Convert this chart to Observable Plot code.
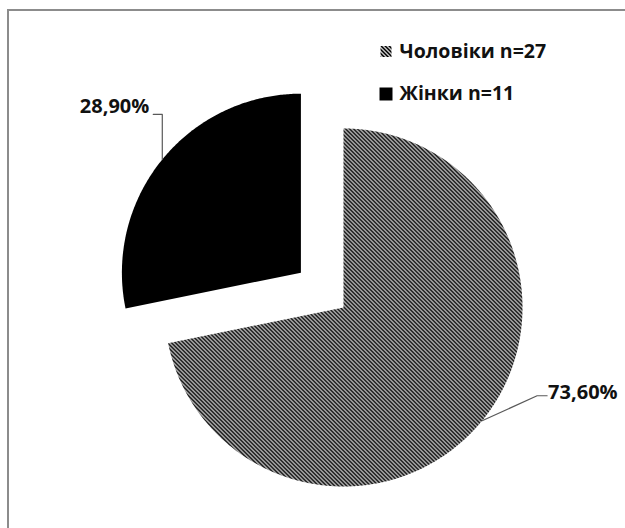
<!DOCTYPE html>
<html>
<head>
<meta charset="utf-8">
<script src="https://cdn.jsdelivr.net/npm/d3@7"></script>
<script src="https://cdn.jsdelivr.net/npm/@observablehq/plot@0.6"></script>
<style>
  html, body { margin: 0; padding: 0; background: #fff; overflow: hidden; }
  #wrap { position: relative; width: 625px; height: 528px; overflow: hidden; }
  #border { position: absolute; left: 7px; top: 9px; width: 700px; height: 600px;
            border-top: 2px solid #8c8c8c; border-left: 2px solid #8c8c8c; box-sizing: border-box; }
  #chart { position: absolute; left: 0; top: 0; }
</style>
</head>
<body>
<div id="wrap"><div id="border"></div><div id="chart"></div></div>
<script>
// ---- data ----
const categories = ["Чоловіки n=27", "Жінки n=11"];
const values = [73.6, 28.9];
const labels = ["73,60%", "28,90%"];

// ---- layout (pixels) ----
const W = 625, H = 528;
const R = 179;               // pie radius in px
const CX = 343, CY = 307;    // pie centre in px
const EXPLODE = [0, 55];     // explosion per slice in px
const FONT = "'Open Sans', sans-serif";

const data = categories.map((c, i) => ({category: c, value: values[i], label: labels[i], i}));
const arcs = d3.pie().sort(null).value(d => d.value)(data);

// polygons in unit coords (radius 1, y up)
const pts = [];
const leaders = [];
const labelPts = [];
arcs.forEach((a, k) => {
  const mid = (a.startAngle + a.endAngle) / 2;
  const e = EXPLODE[k] / R;
  const ox = e * Math.sin(mid), oy = e * Math.cos(mid);
  pts.push({k, x: ox, y: oy});
  const n = Math.ceil((a.endAngle - a.startAngle) / (Math.PI / 360));
  for (let j = 0; j <= n; j++) {
    const t = a.startAngle + (a.endAngle - a.startAngle) * j / n;
    pts.push({k, x: ox + Math.sin(t), y: oy + Math.cos(t)});
  }
  pts.push({k, x: ox, y: oy});
  // leader line: arc point -> elbow -> end
  const ax = ox + Math.sin(mid), ay = oy + Math.cos(mid);
  const right = Math.sin(mid) > 0;
  const elbow = right ? [ax + 55 / R, ay + 25 / R] : [ax, ay + 45 / R];
  const end = right ? [elbow[0] + 10 / R, elbow[1]] : [elbow[0] - 9 / R, elbow[1]];
  leaders.push({k, x: ax, y: ay}, {k, x: elbow[0], y: elbow[1]}, {k, x: end[0], y: end[1]});
  labelPts.push({k, x: end[0], y: end[1], label: a.data.label, right});
});

const fills = ["url(#hatch)", "#000"];

const marks = [
  ...arcs.map((a, k) => Plot.line(pts.filter(p => p.k === k), {x: "x", y: "y", fill: fills[k], stroke: "none", curve: "linear"})),
  Plot.line(leaders, {x: "x", y: "y", z: "k", stroke: "#595959", strokeWidth: 1.2}),
  Plot.text(labelPts.filter(d => d.right), {x: "x", y: "y", text: "label", textAnchor: "start", dx: 1, dy: -3,
    fontSize: 20, fontWeight: 700, fill: "#111", fontFamily: FONT}),
  Plot.text(labelPts.filter(d => !d.right), {x: "x", y: "y", text: "label", textAnchor: "end", dx: -4, dy: -8,
    fontSize: 20, fontWeight: 700, fill: "#111", fontFamily: FONT}),
  ...categories.map((c, i) => Plot.dot([c], {frameAnchor: "top-left", dx: 385.5, dy: 51 + i * 42.5,
    symbol: "square", r: (i === 0 ? 11 : 13) / Math.sqrt(Math.PI), fill: fills[i], stroke: "none"})),
  ...categories.map((c, i) => Plot.text([c], {frameAnchor: "top-left", dx: 399, dy: 51 + i * 42, text: d => d,
    textAnchor: "start", lineAnchor: "middle", fontSize: 19.5, fontWeight: 700, fill: "#111", fontFamily: FONT,
    ariaLabel: "legend-" + i}))
];

const chart = Plot.plot({
  width: W, height: H,
  marginTop: 0, marginRight: 0, marginBottom: 0, marginLeft: 0,
  x: {domain: [-CX / R, (W - CX) / R], axis: null},
  y: {domain: [-(H - CY) / R, CY / R], axis: null},
  style: {background: "transparent", overflow: "visible"},
  marks
});

const svg = d3.select(chart);
const defs = svg.insert("defs", ":first-child");
// crisp 4x4 pixel hatch, downward diagonal
const pat = defs.append("pattern").attr("id", "hatch").attr("patternUnits", "userSpaceOnUse")
  .attr("width", 4).attr("height", 4);
pat.append("rect").attr("width", 4).attr("height", 4).attr("fill", "#fff");
for (let r = 0; r < 4; r++) {
  [[r, "#000"], [(r + 1) % 4, "#000"], [(r + 2) % 4, "#8a8a8a"]].forEach(([c, col]) => {
    pat.append("rect").attr("x", c).attr("y", r).attr("width", 1).attr("height", 1)
      .attr("fill", col).attr("shape-rendering", "crispEdges");
  });
}
// clip the first legend entry's text at its bottom, as in the original
defs.append("clipPath").attr("id", "legclip").append("rect")
  .attr("x", 0).attr("y", 0).attr("width", W).attr("height", 57.5);
const g0 = svg.select("g[aria-label='legend-0']");
if (!g0.empty()) {
  const wrapper = svg.insert("g").attr("clip-path", "url(#legclip)");
  wrapper.node().appendChild(g0.node());
}

document.getElementById("chart").appendChild(chart);
</script>
</body>
</html>
